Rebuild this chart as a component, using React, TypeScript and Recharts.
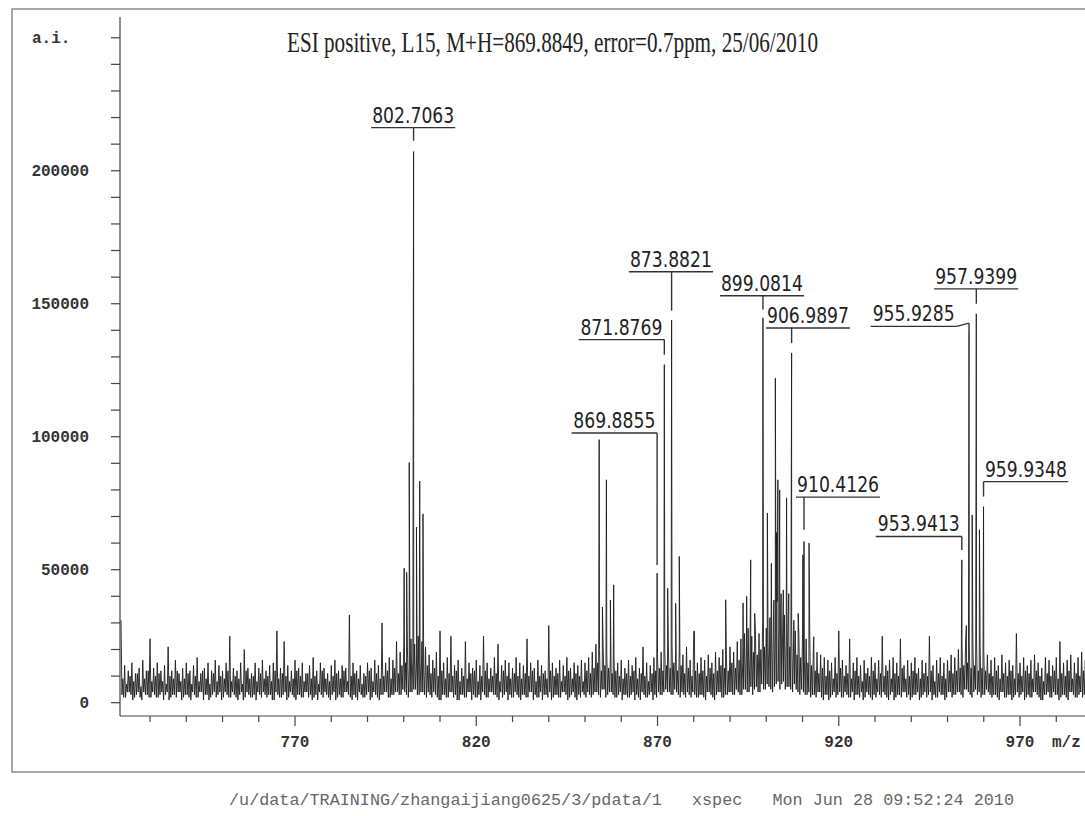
import React from 'react';
import { ComposedChart, Line, XAxis, YAxis, ReferenceLine } from 'recharts';

// visible m/z window and intensity window (a.i.)
const mzMin = 721.72;
const mzMax = 992.06;
const aiMin = -5000;
const aiMax = 257800;

// axis ticks
const xMinor = [730, 740, 750, 760, 770, 780, 790, 800, 810, 820, 830, 840, 850, 860, 870, 880, 890, 900, 910, 920, 930, 940, 950, 960, 970, 980, 990];
const xMajor = [770, 820, 870, 920, 970];
const yTicks = [0, 10000, 20000, 30000, 40000, 50000, 60000, 70000, 80000, 90000, 100000, 110000, 120000, 130000, 140000, 150000, 160000, 170000, 180000, 190000, 200000, 210000, 220000, 230000, 240000, 250000];
const yLabelled = [0, 50000, 100000, 150000, 200000];

// baseline noise, one bin per m/z unit starting at 722 (thousands a.i.)
// each bin: high, low, second high, second low
const noiseStart = 722;
const noiseHigh = [
  31, 14, 12, 15, 11, 13, 16, 12, 24, 13,
  15, 12, 14, 21, 12, 16, 11, 13, 15, 12,
  14, 17, 11, 13, 15, 12, 16, 14, 12, 15,
  25, 13, 12, 15, 20, 13, 11, 15, 13, 16,
  12, 14, 15, 27, 13, 23, 14, 12, 16, 13,
  15, 11, 14, 17, 12, 15, 13, 11, 14, 16,
  12, 14, 13, 33, 15, 12, 14, 11, 15, 13,
  16, 14, 30, 15, 17, 16, 23, 19, 22, 21,
  24, 22, 25, 23, 21, 18, 16, 19, 27, 15,
  17, 25, 14, 16, 13, 23, 15, 13, 16, 14,
  25, 15, 13, 17, 22, 14, 16, 15, 13, 17,
  15, 14, 24, 15, 13, 16, 14, 12, 29, 15,
  13, 16, 14, 17, 13, 15, 14, 16, 15, 17,
  19, 22, 20, 21, 19, 18, 17, 15, 16, 13,
  16, 14, 17, 13, 21, 15, 14, 17, 18, 19,
  20, 21, 22, 19, 20, 18, 21, 16, 27, 15,
  17, 16, 18, 15, 19, 17, 20, 18, 21, 19,
  23, 24, 26, 28, 25, 27, 26, 30, 28, 32,
  35, 38, 36, 33, 30, 29, 27, 25, 26, 24,
  25, 21, 19, 18, 17, 16, 15, 17, 27, 16,
  14, 24, 15, 17, 14, 16, 13, 17, 15, 16,
  25, 14, 16, 17, 15, 24, 14, 16, 15, 17,
  13, 16, 15, 25, 14, 16, 17, 15, 16, 18,
  17, 20, 22, 24, 23, 22, 24, 21, 20, 18,
  16, 17, 14, 18, 15, 16, 14, 26, 15, 17,
  14, 16, 18, 15, 13, 17, 16, 14, 17, 23,
  15, 16, 18, 15, 17, 19, 16,
];
const noiseLow = [
  3, 2, 4, 1, 3, 2, 4, 3, 2, 3,
  2, 4, 3, 1, 3, 2, 4, 2, 3, 1,
  3, 2, 4, 3, 1, 3, 2, 4, 2, 3,
  2, 3, 1, 4, 2, 3, 2, 1, 3, 4,
  2, 3, 1, 3, 2, 4, 2, 3, 1, 3,
  2, 4, 3, 2, 1, 3, 4, 2, 3, 1,
  3, 2, 4, 2, 3, 1, 3, 2, 4, 2,
  3, 1, 3, 4, 2, 3, 4, 3, 4, 2,
  4, 5, 3, 4, 2, 3, 4, 2, 1, 3,
  2, 4, 3, 1, 3, 2, 4, 3, 2, 1,
  3, 2, 4, 3, 1, 2, 4, 3, 2, 3,
  1, 3, 2, 4, 3, 2, 1, 3, 4, 2,
  3, 2, 4, 1, 3, 2, 3, 4, 2, 3,
  3, 4, 2, 5, 3, 4, 2, 3, 1, 3,
  2, 4, 3, 1, 3, 2, 4, 3, 4, 3,
  5, 4, 3, 4, 2, 3, 4, 2, 3, 2,
  3, 1, 4, 2, 3, 4, 2, 3, 4, 3,
  4, 3, 5, 4, 3, 6, 4, 5, 7, 5,
  6, 8, 7, 5, 6, 4, 5, 3, 4, 3,
  2, 3, 4, 2, 3, 1, 3, 2, 4, 2,
  3, 2, 1, 3, 4, 2, 3, 1, 2, 3,
  4, 2, 3, 1, 3, 2, 4, 3, 2, 3,
  1, 3, 2, 4, 3, 2, 3, 1, 4, 2,
  3, 4, 2, 5, 3, 4, 3, 2, 3, 4,
  2, 3, 1, 4, 2, 3, 2, 4, 3, 1,
  3, 2, 4, 2, 1, 3, 2, 4, 3, 2,
  3, 1, 4, 2, 3, 2, 3,
];
const noiseMid = [
  9, 7, 10, 8, 11, 6, 9, 12, 8, 10,
  11, 8, 7, 10, 9, 12, 8, 9, 11, 7,
  10, 8, 12, 9, 7, 11, 8, 10, 9, 12,
  8, 10, 9, 7, 12, 9, 10, 8, 11, 9,
  10, 8, 12, 9, 11, 10, 8, 9, 12, 10,
  8, 11, 9, 10, 7, 12, 9, 8, 10, 11,
  9, 12, 8, 10, 11, 9, 7, 10, 12, 8,
  11, 9, 10, 12, 9, 13, 11, 14, 15, 13,
  16, 14, 15, 12, 14, 11, 13, 10, 12, 9,
  11, 10, 12, 8, 10, 9, 11, 12, 8, 10,
  12, 9, 10, 11, 8, 12, 10, 9, 11, 10,
  9, 11, 10, 12, 8, 10, 11, 9, 12, 10,
  11, 8, 10, 12, 9, 11, 10, 8, 12, 11,
  13, 15, 12, 14, 13, 11, 12, 10, 9, 11,
  10, 12, 9, 11, 10, 8, 11, 12, 13, 12,
  14, 13, 15, 12, 14, 11, 13, 10, 12, 11,
  12, 10, 13, 11, 12, 14, 13, 12, 15, 13,
  16, 15, 18, 17, 19, 18, 20, 21, 22, 24,
  26, 28, 25, 23, 21, 19, 18, 17, 16, 15,
  14, 12, 11, 13, 10, 12, 9, 11, 13, 10,
  11, 9, 12, 10, 8, 11, 10, 12, 9, 11,
  10, 12, 9, 11, 10, 13, 9, 10, 12, 11,
  9, 11, 10, 12, 8, 11, 10, 9, 12, 11,
  12, 13, 14, 15, 13, 14, 12, 13, 12, 11,
  10, 12, 9, 11, 10, 12, 9, 11, 10, 12,
  11, 9, 12, 10, 8, 11, 10, 12, 9, 11,
  10, 12, 9, 11, 10, 12, 11,
];
const noiseLow2 = [
  2, 4, 3, 2, 4, 1, 3, 2, 4, 2,
  3, 1, 4, 2, 3, 4, 1, 3, 2, 4,
  2, 4, 1, 3, 2, 4, 3, 1, 4, 2,
  4, 2, 3, 1, 4, 2, 3, 4, 2, 3,
  3, 1, 4, 2, 3, 1, 4, 2, 3, 2,
  4, 2, 1, 3, 4, 2, 3, 1, 4, 2,
  2, 4, 3, 1, 2, 4, 2, 3, 1, 4,
  2, 3, 4, 2, 3, 4, 3, 5, 3, 4,
  5, 3, 4, 3, 4, 2, 3, 1, 3, 2,
  4, 2, 1, 3, 2, 4, 1, 2, 3, 4,
  2, 4, 3, 2, 4, 3, 1, 2, 4, 2,
  3, 2, 4, 1, 2, 4, 3, 2, 1, 3,
  2, 4, 3, 2, 4, 1, 2, 3, 4, 2,
  4, 3, 5, 2, 4, 3, 2, 4, 3, 2,
  3, 1, 2, 4, 2, 3, 1, 2, 3, 4,
  4, 3, 5, 3, 4, 2, 3, 4, 2, 3,
  2, 4, 3, 1, 4, 2, 3, 4, 3, 5,
  3, 5, 4, 6, 5, 4, 7, 5, 6, 4,
  7, 5, 8, 6, 5, 7, 4, 5, 3, 4,
  3, 2, 4, 1, 3, 2, 4, 3, 2, 4,
  2, 4, 3, 2, 1, 4, 2, 3, 4, 2,
  3, 1, 4, 2, 3, 4, 2, 1, 3, 4,
  2, 4, 3, 1, 2, 4, 3, 2, 4, 3,
  4, 3, 5, 4, 2, 5, 4, 3, 5, 3,
  3, 2, 4, 2, 3, 1, 3, 2, 4, 2,
  2, 4, 3, 1, 3, 4, 2, 3, 1, 3,
  2, 4, 3, 2, 4, 3, 2,
];

// signal peaks: m/z and intensity in thousands a.i.
const peakMz = [
  800.1, 800.8, 801.5, 802.7063, 803.5, 804.4, 805.3,
  853.9, 854.8, 855.9, 857.0, 857.9,
  869.8855, 871.8769, 872.8, 873.8821, 875.0, 876.0, 880.2,
  888.8, 893.6, 894.6, 895.7, 896.8,
  899.0814, 900.3, 901.4, 902.1, 902.5, 902.8, 903.2, 903.7, 904.1, 904.7, 905.6, 906.2, 906.9897, 907.6, 908.8, 910.1, 910.4126, 911.8, 913.1,
  953.9413, 955.2, 955.9285, 956.8, 957.9399, 958.8, 959.9348,
];
const peakK = [
  50.6, 49.0, 90.3, 207.2, 66.0, 83.3, 71.0,
  98.9, 36.0, 83.8, 38.6, 44.3,
  48.7, 127.1, 43.0, 143.9, 37.4, 55.0, 26.7,
  38.7, 37.5, 40.0, 53.7, 33.6,
  144.7, 71.3, 52.4, 38.6, 122.0, 64.0, 83.8, 80.0, 41.0, 42.4, 77.0, 41.0, 131.5, 31.0, 33.6, 55.6, 60.6, 60.0, 24.8,
  53.7, 29.0, 139.6, 70.6, 146.2, 65.0, 73.7,
];

// peak annotations: label bar span (m/z), bar height and leader end (thousands a.i.)
const annMz = [802.7063, 873.8821, 871.8769, 869.8855, 899.0814, 906.9897, 910.4126, 955.9285, 957.9399, 959.9348, 953.9413];
const annLeft = [791.0, 862.1, 848.2, 846.3, 887.2, 899.9, 908.2, 928.8, 946.3, 959.9348, 930.2];
const annRight = [814.2, 885.3, 871.8769, 869.8855, 910.4, 923.1, 931.4, 952.5, 969.5, 983.3, 953.9413];
const annLevel = [216.2, 162.0, 136.5, 101.4, 153.0, 140.9, 77.3, 141.5, 155.6, 83.1, 62.5];
const annTip = [211.3, 147.4, 130.8, 51.8, 147.8, 135.2, 65.0, 139.6, 150.0, 77.5, 57.4];
const annJog = [null, null, null, null, null, null, null, 142.7, null, null, null];

const trace: { mz: number; v: number }[] = [];
noiseHigh.forEach((h, i) => {
  trace.push({ mz: noiseStart + i, v: h * 1000 });
  trace.push({ mz: noiseStart + i + 0.25, v: noiseLow[i] * 1000 });
  trace.push({ mz: noiseStart + i + 0.5, v: noiseMid[i] * 1000 });
  trace.push({ mz: noiseStart + i + 0.75, v: noiseLow2[i] * 1000 });
});
peakMz.forEach((m, i) => trace.push({ mz: m, v: peakK[i] * 1000 }));
trace.sort((a, b) => a.mz - b.mz);

const monoBold = {
  fontFamily: "'Liberation Mono', 'DejaVu Sans Mono', monospace",
  fontWeight: 700,
  fontSize: 16,
  fill: '#333',
};
const ink = '#1c1c1c';

const XTick = (props: any) => {
  const { x, y, payload } = props;
  const major = xMajor.includes(payload.value);
  return (
    <g>
      <line x1={x} y1={y} x2={x} y2={y + (major ? 10 : 6)} stroke="#444" strokeWidth={1.2} />
      {major && (
        <text x={x} y={y + 31} textAnchor="middle" style={monoBold}>
          {payload.value}
        </text>
      )}
    </g>
  );
};

const YTick = (props: any) => {
  const { x, y, payload } = props;
  const v = payload.value;
  return (
    <g>
      <line x1={x - 9} y1={y} x2={x} y2={y} stroke="#444" strokeWidth={1.2} />
      {yLabelled.includes(v) && (
        <text x={x - 31} y={y + 5} textAnchor="end" style={monoBold}>
          {v}
        </text>
      )}
      {v === 250000 && (
        <text x={x - 88} y={y + 5} textAnchor="start" style={monoBold}>
          a.i.
        </text>
      )}
    </g>
  );
};

// text sitting on top of a label bar
const PeakText = (props: any) => {
  const vb = props.viewBox;
  if (!vb) return null;
  return (
    <text
      x={vb.x + vb.width / 2}
      y={vb.y - 5}
      textAnchor="middle"
      textLength={82}
      lengthAdjust="spacingAndGlyphs"
      fontFamily="'Liberation Sans Narrow', 'DejaVu Sans Condensed', 'Liberation Sans', sans-serif"
      fontSize={22}
      fill="#222"
    >
      {props.text}
    </text>
  );
};

export default function App() {
  return (
    <div
      style={{
        position: 'absolute',
        left: 0,
        top: 0,
        width: 1085,
        height: 816,
        overflow: 'hidden',
        background: '#fff',
      }}
    >
      <ComposedChart width={1100} height={816} data={trace} margin={{ top: 17, right: 0, bottom: 0, left: 0 }}>
        <XAxis
          dataKey="mz"
          type="number"
          domain={[mzMin, mzMax]}
          allowDataOverflow
          ticks={xMinor}
          interval={0}
          tick={<XTick />}
          tickLine={false}
          tickSize={0}
          tickMargin={0}
          axisLine={{ stroke: '#444', strokeWidth: 1.2 }}
          height={100}
        />
        <YAxis
          type="number"
          domain={[aiMin, aiMax]}
          allowDataOverflow
          ticks={yTicks}
          interval={0}
          tick={<YTick />}
          tickLine={false}
          tickSize={0}
          tickMargin={0}
          axisLine={{ stroke: '#444', strokeWidth: 1.2 }}
          width={120}
        />
        <Line
          type="linear"
          dataKey="v"
          stroke={ink}
          strokeWidth={0.9}
          dot={false}
          activeDot={false}
          isAnimationActive={false}
        />
        {annMz.map((m, i) => (
          <ReferenceLine
            key={'bar' + i}
            segment={[
              { x: annLeft[i], y: annLevel[i] * 1000 },
              { x: annRight[i], y: annLevel[i] * 1000 },
            ]}
            stroke="#333"
            strokeWidth={1.4}
            label={<PeakText text={m.toFixed(4)} />}
          />
        ))}
        {annMz.map((m, i) =>
          annJog[i] == null ? (
            <ReferenceLine
              key={'lead' + i}
              segment={[
                { x: m, y: annLevel[i] * 1000 },
                { x: m, y: annTip[i] * 1000 },
              ]}
              stroke="#333"
              strokeWidth={1.4}
            />
          ) : (
            <ReferenceLine
              key={'lead' + i}
              segment={[
                { x: annRight[i], y: annLevel[i] * 1000 },
                { x: m, y: (annJog[i] as number) * 1000 },
              ]}
              stroke="#333"
              strokeWidth={1.4}
            />
          )
        )}
        {annMz.map((m, i) =>
          annJog[i] == null ? null : (
            <ReferenceLine
              key={'jog' + i}
              segment={[
                { x: m, y: (annJog[i] as number) * 1000 },
                { x: m, y: annTip[i] * 1000 },
              ]}
              stroke="#333"
              strokeWidth={1.4}
            />
          )
        )}
      </ComposedChart>
      <svg
        width={1085}
        height={816}
        style={{ position: 'absolute', left: 0, top: 0, pointerEvents: 'none' }}
      >
        <rect x={12} y={9} width={1090} height={763} fill="none" stroke="#8c8c8c" strokeWidth={1.5} />
        <text
          x={287}
          y={52}
          textLength={531}
          lengthAdjust="spacingAndGlyphs"
          fontFamily="'Liberation Serif', 'DejaVu Serif', serif"
          fontSize={30}
          fill="#222"
        >
          ESI positive, L15, M+H=869.8849, error=0.7ppm, 25/06/2010
        </text>
        <text x={1052} y={747} style={monoBold}>
          m/z
        </text>
        <text
          x={229}
          y={805}
          textLength={785}
          lengthAdjust="spacingAndGlyphs"
          fontFamily="'Liberation Mono', 'DejaVu Sans Mono', monospace"
          fontSize={16}
          fill="#666"
          xmlSpace="preserve"
          style={{ whiteSpace: 'pre' }}
        >
          /u/data/TRAINING/zhangaijiang0625/3/pdata/1   xspec   Mon Jun 28 09:52:24 2010
        </text>
      </svg>
    </div>
  );
}
